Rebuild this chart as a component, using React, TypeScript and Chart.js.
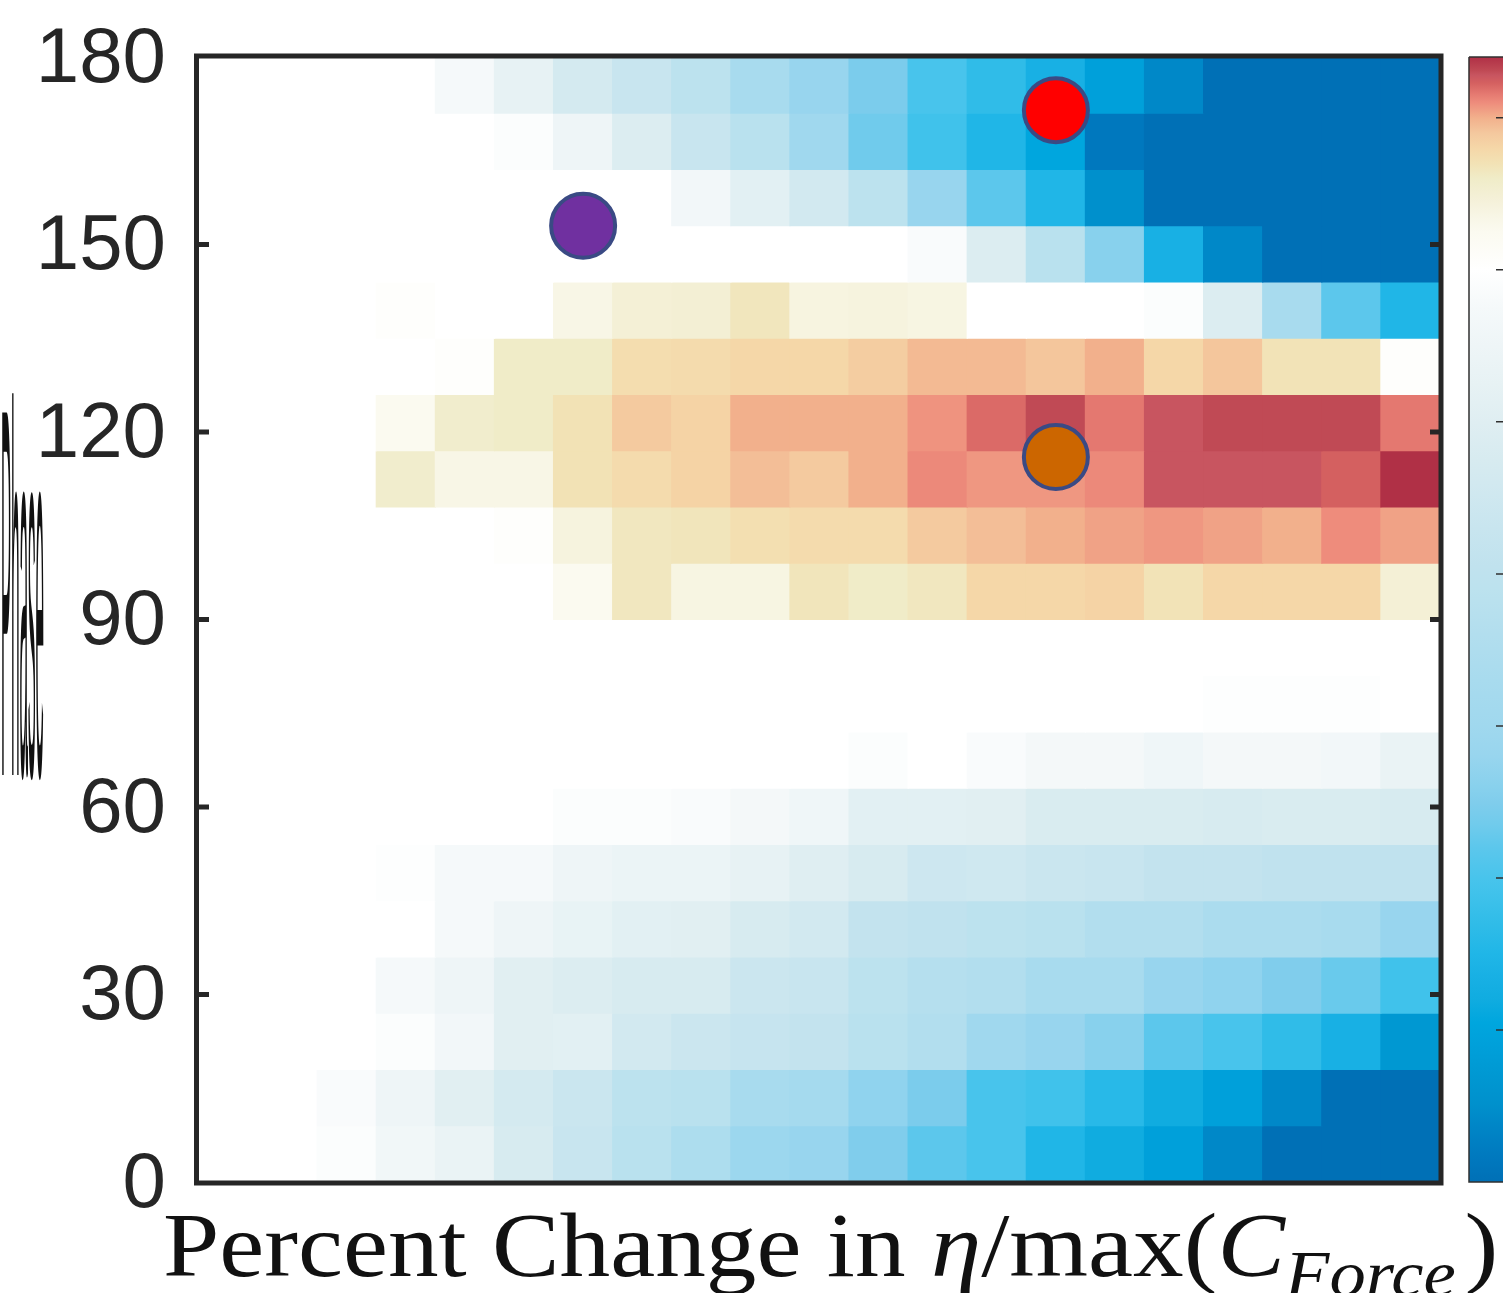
import React, { useEffect, useRef } from 'react';
import { Chart, registerables } from 'chart.js';

Chart.register(...registerables);

// ---- Categories -------------------------------------------------------------
// Columns: percent change in eta / max(C_Force)
const percentChange = ['-100', '-90', '-80', '-70', '-60', '-50', '-40', '-30', '-20', '-10', '0', '10', '20', '30', '40', '50', '60', '70', '80', '90', '100'];
// Rows: lower edge of each 9-degree band, top band first
const rowStarts = [171, 162, 153, 144, 135, 126, 117, 108, 99, 90, 81, 72, 63, 54, 45, 36, 27, 18, 9, 0];
const rowSpan = 9;

// ---- Cell values (colour-bar units), one array per row -------------------------
const row171 = [0, 0, 0, 0, -2.5, -7.5, -13.5, -17, -21, -27, -32, -35.5, -40, -43, -46.5, -51, -56, -60, -60, -60, -60];
const row162 = [0, 0, 0, 0, 0, -1, -5, -11, -17, -22, -30, -36.5, -41, -45, -49.5, -58.5, -60, -60, -60, -60, -60];
const row153 = [0, 0, 0, 0, 0, 0, 0, 0, -3.5, -9, -14, -21, -32, -38, -45, -55, -60, -60, -60, -60, -60];
const row144 = [0, 0, 0, 0, 0, 0, 0, 0, 0, 0, 0, 0, -1.5, -11, -22, -34, -46.5, -56, -60, -60, -60];
const row135 = [0, 0, 0, 0.5, 0, 0, 3.5, 4.8, 5, 6.6, 4, 4.2, 3.8, 0, 0, 0, -1, -11, -27, -38, -45];
const row126 = [0, 0, 0, 0, 0.5, 6, 6, 7.5, 7.6, 8, 8, 8.7, 9.6, 9.6, 9.1, 10, 8, 9.1, 6.9, 6.9, 0.5];
const row117 = [0, 0, 0, 2.5, 5.6, 6, 7, 8.9, 8.3, 10, 10, 10, 10.8, 12, 13.1, 11.6, 12.8, 13.1, 13.1, 13.1, 11.6];
const row108 = [0, 0, 0, 5.6, 3.5, 3.5, 7, 7.6, 8.3, 9.4, 8.9, 10, 11.1, 10.7, 10.7, 11.1, 12.8, 12.8, 12.8, 12.3, 14];
const row99 = [0, 0, 0, 0, 0, 0.5, 4.2, 6.5, 6.7, 7.3, 7.6, 7.6, 8.9, 9.4, 10, 10.4, 10.7, 10.4, 10, 11, 10.4];
const row90 = [0, 0, 0, 0, 0, 0, 2.5, 6.5, 3.8, 3.8, 6.7, 6, 6.5, 8, 8, 8.3, 6.9, 8, 8, 8, 4.8];
const row81 = [0, 0, 0, 0, 0, 0, 0, 0, 0, 0, 0, 0, 0, 0, 0, 0, 0, 0, 0, 0, 0];
const row72 = [0, 0, 0, 0, 0, 0, 0, 0, 0, 0, 0, 0, 0, 0, 0, 0, 0, -0.5, -0.5, -0.5, 0];
const row63 = [0, 0, 0, 0, 0, 0, 0, 0, 0, 0, 0, -1, 0, -1.5, -3, -3, -4.5, -3, -3, -3.5, -6.5];
const row54 = [0, 0, 0, 0, 0, 0, -1, -1, -1.5, -3, -4.5, -9, -9, -9.5, -12, -12, -12, -12.5, -12, -12, -12.5];
const row45 = [0, 0, 0, -0.5, -2.5, -2.5, -5, -6, -6, -7.5, -10, -12.5, -15.5, -15, -16.5, -17, -18.5, -18.5, -19.5, -19.5, -19.5];
const row36 = [0, 0, 0, 0, -2.5, -5, -7, -9, -9.5, -12.5, -14, -18.5, -19.5, -21, -22, -24, -24, -26, -26, -27, -32];
const row27 = [0, 0, 0, -2.5, -5, -9.5, -11, -12.5, -12.5, -16, -17, -21, -23, -24, -27, -27, -32, -33, -35, -37, -41];
const row18 = [0, 0, 0, -1, -3.5, -9.5, -9, -14, -16, -17.5, -18.5, -22, -24, -30, -32, -34, -38, -40, -43, -46.5, -53];
const row9 = [0, 0, -1.5, -5, -9.5, -13.5, -16.5, -21, -22, -27, -28, -33, -35.5, -40, -41, -44, -48, -51, -56, -60, -60];
const row0 = [0, 0, -1, -4, -6.5, -12.5, -17, -22, -25.5, -31, -32, -35, -38, -40, -45, -48, -51, -56, -60, -60, -60];

const rowValues = [row171, row162, row153, row144, row135, row126, row117, row108, row99, row90,
  row81, row72, row63, row54, row45, row36, row27, row18, row9, row0];

// ---- Axes / colour bar ticks -----------------------------------------------------
const yTickValues = [0, 30, 60, 90, 120, 150, 180];
const colorbarTicks = [10, 0, -10, -20, -30, -40, -50];
const colorMin = -60;
const colorMax = 14;

// ---- Highlighted points ----------------------------------------------------------
const markerX = ['40', '-40', '40'];
const markerY = [171.5, 153, 116];
const markerFill = ['#ff0000', '#7030a0', '#cc6600'];

// ---- Labels ----------------------------------------------------------------------
const yAxisLabel = 'Phase';

// ---- Colormap (value -> colour) ----------------------------------------------------
const cmap: [number, string][] = [
  [-60, '#0070b6'], [-58.5, '#0078be'], [-56, '#0088c8'], [-55, '#0090cc'], [-53, '#0098d2'],
  [-51, '#00a0da'], [-49.5, '#00a6de'], [-48, '#10ace0'], [-46.5, '#18b0e4'], [-45, '#20b6e7'],
  [-43, '#30bce8'], [-41, '#40c2eb'], [-40, '#48c4ec'], [-38, '#5cc7ec'], [-36.5, '#70cbec'],
  [-35, '#80cdec'], [-34, '#88d1ed'], [-32, '#98d5ee'], [-30, '#a0d8ee'], [-27, '#a8dbee'],
  [-24, '#b2deee'], [-21, '#bce2ee'], [-19.5, '#c0e2ee'], [-17, '#c8e5ef'], [-14, '#d2e9f0'],
  [-12.5, '#d7ebf0'], [-10, '#dfeef2'], [-7.5, '#e7f2f4'], [-5, '#eef5f7'], [-2.5, '#f5f9fa'],
  [0, '#ffffff'], [2.5, '#fbfaf0'], [3.5, '#f8f6e6'], [4.5, '#f5f1da'], [6, '#f0ecc8'],
  [7, '#f2e2b5'], [8, '#f5d7a8'], [9, '#f4c89e'], [10, '#f2b08c'], [11, '#ee8c7c'],
  [11.6, '#e47870'], [12.3, '#d46060'], [12.8, '#c85560'], [13.1, '#c04a55'], [14, '#b03046'],
];

function hexToRgb(h: string): number[] {
  const n = parseInt(h.slice(1), 16);
  return [(n >> 16) & 255, (n >> 8) & 255, n & 255];
}

function colorFor(v: number): string {
  if (v <= cmap[0][0]) return cmap[0][1];
  for (let i = 1; i < cmap.length; i++) {
    if (v <= cmap[i][0]) {
      const [v0, c0] = cmap[i - 1];
      const [v1, c1] = cmap[i];
      const t = (v - v0) / (v1 - v0);
      const a = hexToRgb(c0);
      const b = hexToRgb(c1);
      const m = a.map((x, k) => Math.round(x + (b[k] - x) * t));
      return `rgb(${m[0]},${m[1]},${m[2]})`;
    }
  }
  return cmap[cmap.length - 1][1];
}

const decorations = {
  id: 'decorations',
  afterDraw(chart: any) {
    const { ctx, chartArea: ca, scales } = chart;
    const yS = scales.y;
    const cb = scales.cb;
    ctx.save();

    // Plot frame
    ctx.strokeStyle = '#262626';
    ctx.lineWidth = 5;
    ctx.strokeRect(ca.left - 2.5, ca.top - 1, ca.right - ca.left + 3.5, ca.bottom - ca.top + 2);
    // Inward tick marks
    ctx.fillStyle = '#262626';
    yTickValues.forEach((v) => {
      if (v === 0 || v === 180) return;
      const py = yS.getPixelForValue(v);
      ctx.fillRect(ca.left, py - 2.5, 10, 5);
      ctx.fillRect(ca.right - 10, py - 2.5, 10, 5);
    });

    // Colour bar
    const x0 = ca.right + 29;
    const top = cb.getPixelForValue(colorMax);
    const bot = cb.getPixelForValue(colorMin);
    const g = ctx.createLinearGradient(0, bot, 0, top);
    cmap.forEach(([v, c]) => g.addColorStop((v - colorMin) / (colorMax - colorMin), c));
    ctx.fillStyle = g;
    ctx.fillRect(x0, top, chart.width - x0 + 5, bot - top);
    ctx.strokeStyle = '#303030';
    ctx.lineWidth = 1.5;
    ctx.beginPath();
    ctx.moveTo(x0, top);
    ctx.lineTo(chart.width + 2, top);
    ctx.moveTo(x0, top);
    ctx.lineTo(x0, bot);
    ctx.lineTo(chart.width + 2, bot);
    colorbarTicks.forEach((v) => {
      const py = cb.getPixelForValue(v);
      ctx.moveTo(chart.width - 7, py);
      ctx.lineTo(chart.width, py);
    });
    ctx.stroke();

    // X-axis title with mixed styles
    const segs = [
      { t: 'Percent Change in ', st: '', size: 92, dy: 0 },
      { t: 'η', st: 'italic ', size: 92, dy: 0 },
      { t: '/max(', st: '', size: 92, dy: 0 },
      { t: 'C', st: 'italic ', size: 92, dy: 0 },
      { t: 'Force', st: 'italic ', size: 66, dy: 20 },
      { t: ')', st: '', size: 92, dy: 0 },
    ];
    const widths = segs.map((s) => {
      ctx.font = `${s.st}${s.size}px "Liberation Serif"`;
      return ctx.measureText(s.t).width;
    });
    const mainW = widths[0] + widths[1] + widths[2] + widths[3];
    const sx = (1285 - 163) / mainW;
    ctx.save();
    ctx.translate(163, 1276);
    ctx.scale(sx, 1);
    ctx.fillStyle = '#111';
    ctx.textBaseline = 'alphabetic';
    ctx.textAlign = 'left';
    let cx = 0;
    segs.forEach((s, i) => {
      ctx.font = `${s.st}${s.size}px "Liberation Serif"`;
      ctx.fillText(s.t, cx, s.dy);
      cx += widths[i] + (i === 4 ? 8 : 0);
    });
    ctx.restore();

    // Squeezed y-axis label
    ctx.save();
    ctx.font = '40px "Liberation Sans"';
    const w = ctx.measureText(yAxisLabel).width;
    ctx.translate(1, 775);
    ctx.scale(43 / w, 382 / 29);
    ctx.fillStyle = '#111';
    ctx.textBaseline = 'alphabetic';
    ctx.textAlign = 'left';
    ctx.fillText(yAxisLabel, 0, 0);
    ctx.restore();

    ctx.restore();
  },
};

export default function App() {
  const canvasRef = useRef<HTMLCanvasElement>(null);

  useEffect(() => {
    if (!canvasRef.current) return;
    const cellDatasets = rowValues.map((vals, i) => ({
      type: 'bar' as const,
      data: percentChange.map(() => [rowStarts[i], rowStarts[i] + rowSpan]),
      backgroundColor: vals.map(colorFor),
      borderWidth: 0,
      barPercentage: 1,
      categoryPercentage: 1,
      grouped: false,
      inflateAmount: 0.6,
      order: 2,
    }));
    const markerDataset = {
      type: 'scatter' as const,
      data: markerX.map((x, i) => ({ x, y: markerY[i] })),
      pointRadius: 32,
      pointBackgroundColor: markerFill,
      pointBorderColor: '#3a4a84',
      pointBorderWidth: 4,
      showLine: false,
      order: 0,
    };

    const chart = new Chart(canvasRef.current, {
      type: 'bar',
      data: {
        labels: percentChange,
        datasets: [markerDataset as any, ...cellDatasets],
      },
      options: {
        animation: false,
        responsive: false,
        events: [],
        layout: { autoPadding: false, padding: { left: 0, top: 57, right: 63, bottom: 111 } },
        plugins: {
          legend: { display: false },
          tooltip: { enabled: false },
          title: { display: false },
        },
        scales: {
          x: {
            type: 'category',
            display: false,
            offset: true,
            grid: { display: false },
          },
          y: {
            type: 'linear',
            min: 0,
            max: 180,
            afterBuildTicks: (s: any) => {
              s.ticks = yTickValues.map((v) => ({ value: v }));
            },
            afterFit: (s: any) => {
              s.width = 199;
              s.paddingTop = 0;
              s.paddingBottom = 0;
            },
            ticks: {
              autoSkip: false,
              padding: 25,
              labelOffset: 3,
              color: '#262626',
              font: { family: 'Liberation Sans', size: 78 },
            },
            grid: { display: false },
            border: { display: false },
          },
          cb: {
            type: 'linear',
            position: 'right',
            display: false,
            min: colorMin,
            max: colorMax,
          },
        },
      },
      plugins: [decorations],
    });
    return () => chart.destroy();
  }, []);

  return (
    <div style={{ position: 'fixed', left: 0, top: 0, width: 1503, height: 1293, background: '#fff', overflow: 'hidden' }}>
      <canvas ref={canvasRef} width={1503} height={1293} style={{ display: 'block' }} />
    </div>
  );
}
